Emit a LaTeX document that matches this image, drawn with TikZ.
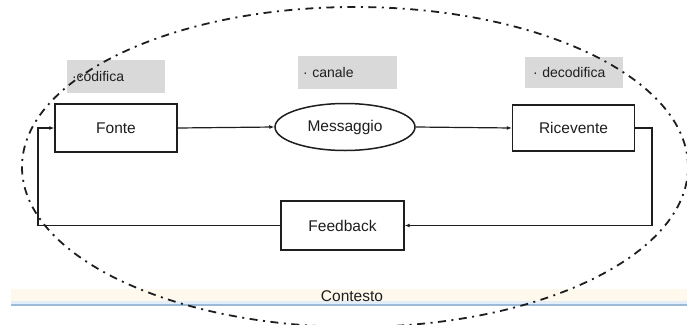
\documentclass[tikz,border=0pt]{standalone}
\usepackage{fontspec}
\setmainfont{Liberation Sans}
\usetikzlibrary{arrows.meta,shapes.geometric}

\definecolor{tagfill}{HTML}{D9D9D9}
\definecolor{inkdark}{HTML}{1E1E1E}
\definecolor{rulerblue}{HTML}{9CBAD8}
\definecolor{rulerhalo}{HTML}{E2EFF8}
\definecolor{bandcream}{HTML}{FFF8EC}

\tikzset{
  mainfont/.style={font=\fontsize{15.5}{18}\selectfont},
  stagebox/.style={draw=inkdark, line width=1.4pt, fill=white, rectangle,
    inner sep=0pt, mainfont, text=inkdark},
  msgshape/.style={draw=inkdark, line width=1.5pt, fill=white, ellipse,
    inner sep=0pt, mainfont, text=inkdark},
  tagbox/.style={fill=tagfill, rectangle, inner xsep=5pt, inner ysep=0pt,
    align=left, font=\fontsize{14}{16}\selectfont, text=inkdark},
  flow/.style={draw=inkdark, line width=1.2pt,
    -{Latex[length=5pt,width=4pt]}},
  contextline/.style={draw=inkdark, line width=1.8pt,
    dash pattern=on 8pt off 5.5pt on 2pt off 5.5pt}
}

\begin{document}
\begin{tikzpicture}[x=1pt,y=-1pt]
  \useasboundingbox (0,0) rectangle (687,324);
  \clip (0,0) rectangle (687,324);
  \fill[white] (0,0) rectangle (687,324);

  % bottom band and ruler line
  \fill[bandcream] (11,289) rectangle (687,303);
  \fill[rulerhalo] (11,301) rectangle (687,304);
  \draw[rulerblue, line width=1.8pt] (11,305) -- (687,305);

  % labels above the stages
  \node[tagbox, minimum height=33pt, text width=88pt] (tagcod) at (116,76.5) {·codifica};
  \node[tagbox, minimum height=33pt, text width=89pt] (tagcan) at (347.5,72.5) {· canale};
  \node[tagbox, minimum height=31pt, text width=88pt] (tagdec) at (574,72.5) {\hspace{3pt}· decodifica};

  % context boundary
  \draw[contextline] (355,167) ellipse [x radius=333pt, y radius=160pt];

  % stages
  \node[stagebox, minimum width=122pt, minimum height=48pt] (fonte) at (116,128) {Fonte};
  \node[msgshape, minimum width=140pt, minimum height=47pt] (msg) at (345,127) {Messaggio};
  \node[stagebox, minimum width=122pt, minimum height=46pt] (ric) at (573.5,128) {Ricevente};
  \node[stagebox, minimum width=123pt, minimum height=49pt] (fb) at (342.5,225.5) {Feedback};

  \node[mainfont, text=inkdark] (ctx) at (352,296) {Contesto};

  % forward path
  \draw[flow] (fonte.east) -- (msg.west);
  \draw[flow] (msg.east) -- (ric.west);

  % feedback loop
  \coordinate (rturn) at (652,128);
  \coordinate (lturn) at (38,225.5);
  \draw[flow] (ric.east) -- (rturn) |- (fb.east);
  \draw[flow] (fb.west) -- (lturn) |- (fonte.west);
\end{tikzpicture}
\end{document}
